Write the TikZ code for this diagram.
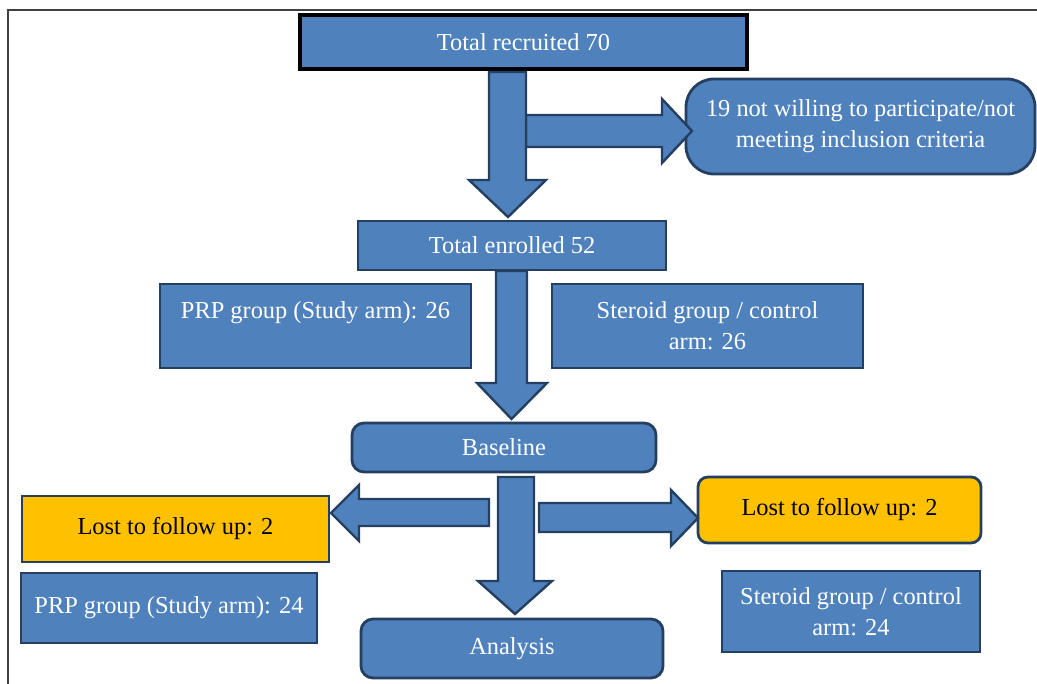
\documentclass[tikz,border=0pt]{standalone}
\usepackage{fontspec}
\setmainfont{Liberation Serif}
\definecolor{bl}{HTML}{4F81BD}
\definecolor{dk}{HTML}{243F60}
\definecolor{gd}{HTML}{FFC000}
\begin{document}
\begin{tikzpicture}[x=0.5pt,y=-0.5pt,
  every node/.style={font=\fontsize{12.2}{15.5}\selectfont},
  box/.style={draw=dk, fill=bl, line width=1.4pt, text=white, inner sep=0pt, align=center},
  rbox/.style={box, rounded corners=6pt},
  gbox/.style={box, fill=gd, text=black},
  barrow/.style={draw=dk, fill=bl, line width=1.2pt, line join=miter}]
\useasboundingbox (0,0) rectangle (1037,684);
\draw[line width=0.8pt, color=black!75] (8,684) -- (8,10) -- (1037,10);

\node[box, draw=black, line width=2pt, minimum width=223.5pt, minimum height=27pt] (rec) at (523.5,42) {Total recruited 70};
\node[rbox, rounded corners=14pt, minimum width=174.5pt, minimum height=47.5pt] (excl) at (860.5,126.5) {19 not willing to participate/not\\meeting inclusion criteria};
\node[box, minimum width=154pt, minimum height=24.5pt] (enr) at (512,245.5) {Total enrolled 52};
\node[box, minimum width=155.5pt, minimum height=42pt] (prp1) at (315.5,326) {PRP group (Study arm): 26\\\mbox{}};
\node[box, minimum width=155.5pt, minimum height=42pt] (ster1) at (707.5,326) {Steroid group / control\\arm: 26};
\node[rbox, minimum width=152pt, minimum height=24.5pt] (base) at (504,447.5) {Baseline};
\node[gbox, minimum width=153.5pt, minimum height=33pt] (lostL) at (175.5,529) {Lost to follow up: 2};
\node[gbox, rounded corners=5pt, minimum width=141.5pt, minimum height=33pt] (lostR) at (839.5,510) {Lost to follow up: 2};
\node[box, minimum width=148pt, minimum height=35pt] (prp2) at (169,608) {PRP group (Study arm): 24};
\node[box, minimum width=129pt, minimum height=40.5pt] (ster2) at (851,611.5) {Steroid group / control\\arm: 24};
\node[rbox, minimum width=151pt, minimum height=29.5pt] (anal) at (512,648.5) {Analysis};

% block arrows
\draw[barrow] (526,115) -- (662,115) -- (662,99) -- (692,131) -- (662,163) -- (662,147) -- (526,147) -- cycle;
\draw[barrow] (489,72) -- (526,72) -- (526,180) -- (546,180) -- (508,217) -- (469,180) -- (489,180) -- cycle;
\draw[barrow] (496,271) -- (527,271) -- (527,383) -- (547,383) -- (511.5,419) -- (477,383) -- (496,383) -- cycle;
\draw[barrow] (498,477) -- (534,477) -- (534,581) -- (552,581) -- (515,614) -- (478,581) -- (498,581) -- cycle;
\draw[barrow] (489,499) -- (359,499) -- (359,485) -- (331,513) -- (359,541) -- (359,526) -- (489,526) -- cycle;
\draw[barrow] (539,503) -- (671,503) -- (671,490) -- (698,518) -- (671,546) -- (671,532) -- (539,532) -- cycle;
\end{tikzpicture}
\end{document}
